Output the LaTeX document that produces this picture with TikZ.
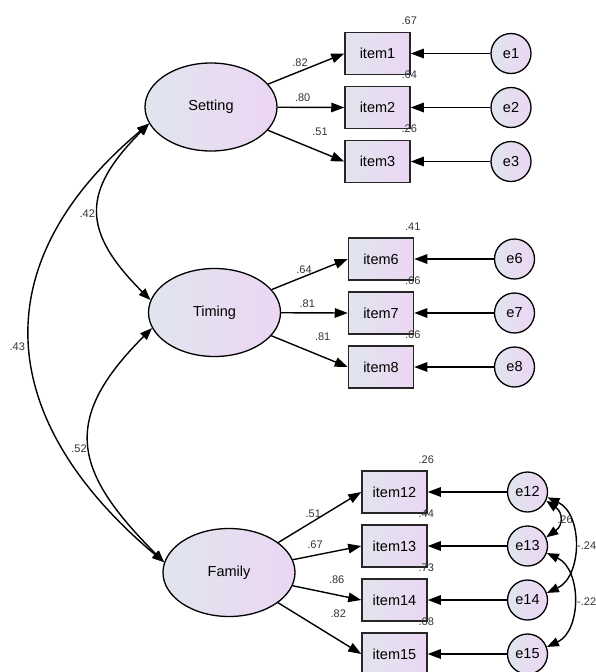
\documentclass[tikz,border=0pt]{standalone}
\usepackage{fontspec}
\setmainfont{Liberation Sans}
\usetikzlibrary{arrows.meta,shapes.geometric,positioning}
\definecolor{shadeL}{RGB}{224,229,238}
\definecolor{shadeR}{RGB}{236,214,243}
\tikzset{latent/.style={ellipse,draw,line width=1.3pt,left color=shadeL,right color=shadeR,minimum width=132pt,minimum height=88pt,inner sep=0pt,font=\fontsize{14.5}{16}\selectfont},obs/.style={rectangle,draw=black!85,line width=1.5pt,left color=shadeL,right color=shadeR,minimum width=65pt,minimum height=42pt,inner sep=0pt,font=\fontsize{14.5}{16}\selectfont},err/.style={circle,draw,line width=1.3pt,left color=shadeL,right color=shadeR,minimum size=40pt,inner sep=0pt,font=\fontsize{14.5}{16}\selectfont},reg/.style={-{Triangle[length=13pt,width=9.5pt]},line width=1.4pt},cov/.style={{Triangle[length=12pt,width=9pt]}-{Triangle[length=12pt,width=9pt]},line width=1.4pt},num/.style={font=\fontsize{11}{12}\selectfont,inner sep=0pt,text=black!80}}

\begin{document}
\begin{tikzpicture}[x=1pt,y=-1pt]
\useasboundingbox (0,0) rectangle (595,672);
\node[latent] (setting) at (211,107) {Setting};
\node[latent] (timing) at (214.5,312.5) {Timing};
\node[latent] (family) at (229,572.5) {Family};
\foreach \i/\x/\y/\ex/\r in {1/377.5/53.5/511/.67,2/377.5/107.5/511/.64,3/377.5/161.5/511/.26,6/381/259/514.5/.41,7/381/313/514.5/.66,8/381/367/514.5/.66,12/394.5/492/527.5/.26,13/394.5/546/527.5/.44,14/394.5/600/527.5/.73,15/394.5/654/527.5/.68}{
\node[obs] (item\i) at (\x,\y) {item\i};
\node[err] (e\i) at (\ex,\y) {e\i};
\draw[reg] (e\i) -- (item\i);
\node[num,xshift=-1.5pt,yshift=11pt] (r\i) at (item\i.north east) {\r};}
\foreach \f/\i/\lx/\ly/\v in {setting/1/300/63/.82,setting/2/302.7/97.3/.80,setting/3/320/131.7/.51,timing/6/304/269.3/.64,timing/7/307.3/303.3/.81,timing/8/322.7/336.7/.81,family/12/313.3/513.3/.51,family/13/315/545/.67,family/14/336.7/580/.86,family/15/338.3/613.3/.82}{
\draw[reg] (\f) -- (item\i.west);
\node[num] (l\i) at (\lx,\ly) {\v};}
\draw[cov] (setting.195) to[out=225,in=135,looseness=1.4] (timing.169);
\draw[cov] (setting.195) to[out=220,in=140,looseness=1.28] (family.171);
\draw[cov] (timing.194) to[out=225,in=135,looseness=1.41] (family.171);
\draw[cov] (e12.-25) to[out=-35,in=35,looseness=1.45] (e13.25);
\draw[cov] (e12.-15) to[out=-25,in=25,looseness=1.05] (e14.20);
\draw[cov] (e13.-20) to[out=-25,in=25,looseness=1.05] (e15.20);
\node[num] (c1) at (87.3,213.3) {.42};
\node[num] (c2) at (17.3,346.7) {.43};
\node[num] (c3) at (79,448.3) {.52};
\node[num] (c4) at (565,520) {.26};
\node[num] (c5) at (586.7,546) {-.24};
\node[num] (c6) at (586.7,601.7) {-.22};
\end{tikzpicture}
\end{document}
